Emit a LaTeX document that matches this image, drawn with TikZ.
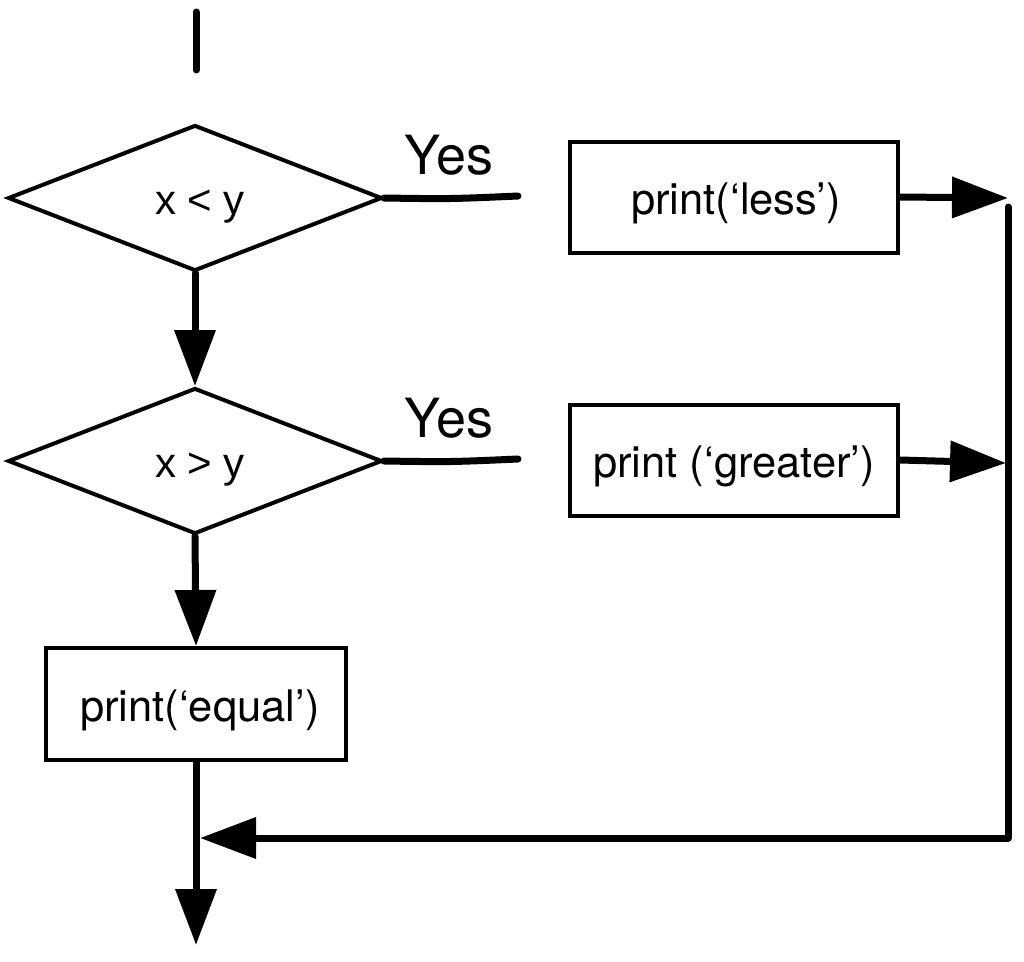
\documentclass[tikz,border=0pt]{standalone}
\usepackage{fontspec}
\setmainfont{TeX Gyre Heros}
\newfontfamily\condfont{Liberation Sans}
\usetikzlibrary{shapes.geometric,arrows.meta}
\tikzset{
  cond/.style={diamond, draw, line width=4pt, minimum width=374pt, minimum height=146pt, aspect=2.56, inner sep=0pt, text height=32pt, text depth=0pt, font=\condfont\fontsize{42}{50}\selectfont},
  stmt/.style={rectangle, draw, line width=4pt, inner sep=0pt, text height=34pt, text depth=0pt, font=\fontsize{43.5}{50}\selectfont},
  flow/.style={line width=7pt, line cap=round},
  arr/.style={flow, -{Triangle[length=56pt,width=40pt]}},
  yeslbl/.style={font=\fontsize{54}{60}\selectfont}
}
\begin{document}
\begin{tikzpicture}[x=1pt,y=-1pt]
\useasboundingbox (0,0) rectangle (1024,961);
% nodes
\node[cond] (d1) at (195,198) {\hspace{10pt}x < y};
\node[cond] (d2) at (195,461) {\hspace{10pt}x > y};
\node[stmt, minimum width=328pt, minimum height=111pt] (b1) at (734,197) {\hspace{4pt}print(‘less’)};
\node[stmt, minimum width=328pt, minimum height=111pt] (b2) at (734,460) {print (‘greater’)};
\node[stmt, minimum width=300pt, minimum height=112pt] (b3) at (196,704) {\hspace{8pt}print(‘equal’)};
\node[yeslbl] (y1) at (449,155) {Yes};
\node[yeslbl] (y2) at (449,418) {Yes};
% coordinates
\coordinate (s0) at (196,12);
\coordinate (s1) at (196,70);
\coordinate (e1) at (518,196);
\coordinate (e2) at (518,459);
\coordinate (r1) at (1008,198);
\coordinate (r2) at (1006,463);
\coordinate (rtop) at (1008,207);
\coordinate (rbot) at (1008,838);
\coordinate (j) at (200,838);
\coordinate (fin) at (196,945);
% connectors
\draw[flow] (s0) -- (s1);
\draw[arr] (d1.south) -- (d2.north);
\draw[arr] (d2.south) -- (b3.north);
\draw[flow] (d1.east) .. controls (450,199) .. (e1);
\draw[flow] (d2.east) .. controls (450,462) .. (e2);
\draw[arr] (b1.east) -- (r1);
\draw[arr] (b2.east) -- (r2);
\draw[flow] (rtop) -- (rbot);
\draw[arr] (rbot) -- (j);
\draw[arr] (b3.south) -- (fin);
\end{tikzpicture}
\end{document}
